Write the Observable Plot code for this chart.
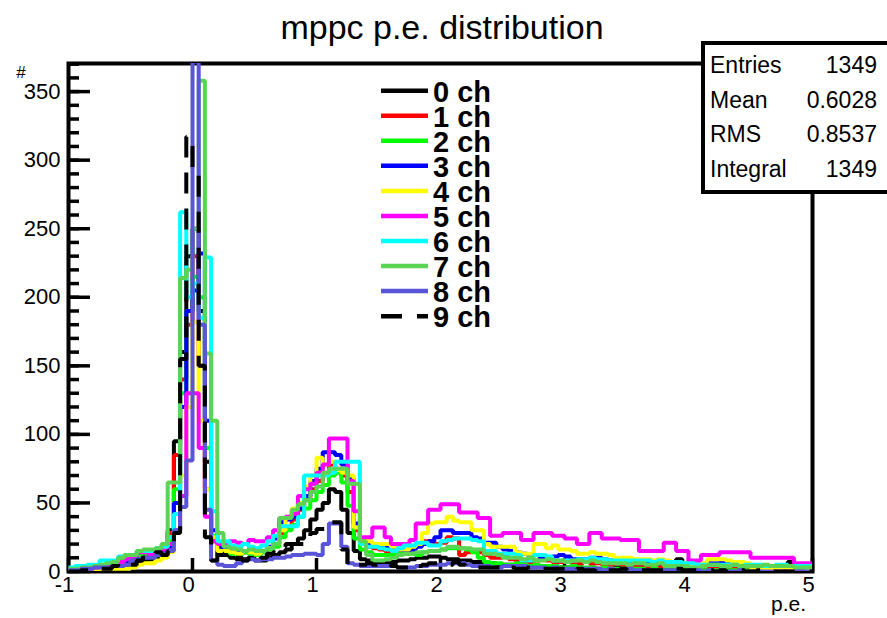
<!DOCTYPE html>
<html>
<head>
<meta charset="utf-8">
<script src="https://cdn.jsdelivr.net/npm/d3@7"></script>
<script src="https://cdn.jsdelivr.net/npm/@observablehq/plot@0.6"></script>
<style>
  html, body { margin: 0; padding: 0; background: #fff; }
  #chart { width: 887px; height: 618px; position: relative; }
</style>
</head>
<body>
<div id="chart"></div>
<script>
// ---- data: 120 bins of width 0.05 from -1 to 5 (p.e.) ----
const xMin = -1, xMax = 5, binWidth = 0.05;

const ch0 = [
  0,1,1,1,2,2,3,3,4,5,
  6,7,8,9,10,12,30,95,160,230,
  250,190,80,22,12,12,10,9,9,10,
  8,8,10,12,14,16,20,24,30,38,
  45,50,60,58,45,28,15,9,8,7,
  6,6,7,8,8,9,10,10,11,11,
  10,9,9,8,8,7,7,6,6,5,
  5,5,4,4,5,4,4,3,4,3,
  3,3,3,2,3,2,2,2,3,2,
  2,2,2,2,1,2,2,2,9,3,
  2,2,2,1,1,1,1,1,1,1,
  1,1,1,1,1,1,7,1,1,0];
const ch1 = [
  1,1,2,2,3,3,5,6,8,9,
  10,12,13,13,14,18,28,85,140,180,
  230,150,60,24,16,17,16,15,14,16,
  15,14,17,20,28,32,38,45,52,60,
  66,72,78,75,70,58,30,22,18,17,
  16,15,14,14,15,16,20,22,22,20,
  21,25,24,12,14,15,14,12,10,10,
  11,9,8,6,6,8,9,8,7,7,
  8,6,6,7,6,6,5,5,6,5,
  5,4,4,4,5,4,4,3,3,3,
  3,2,3,3,2,2,2,2,3,2,
  2,1,2,1,1,1,1,1,1,1];
const ch2 = [
  1,2,2,3,3,4,5,6,8,9,
  11,12,13,14,15,16,22,60,130,190,
  215,200,90,26,18,15,13,12,14,13,
  12,14,16,18,25,30,34,40,46,52,
  58,63,70,72,65,48,24,16,14,12,
  12,12,12,13,13,13,12,14,15,15,
  16,17,17,17,16,14,10,7,6,6,
  5,5,6,5,4,5,4,4,4,3,
  3,4,3,3,3,2,3,2,2,2,
  2,2,2,1,2,1,1,1,1,2,
  1,1,1,1,1,1,1,1,1,1,
  0,1,0,1,0,0,1,0,0,0];
const ch3 = [
  1,1,1,2,2,3,4,5,6,7,
  8,9,10,11,12,14,18,50,120,190,
  205,232,110,30,18,16,15,14,15,16,
  14,15,18,24,36,38,40,46,55,66,
  75,87,87,85,78,68,35,24,20,20,
  18,18,17,16,15,16,18,20,22,25,
  30,30,28,28,28,25,24,21,21,18,
  16,15,14,13,12,12,10,10,11,12,
  11,9,9,9,10,10,9,8,8,7,
  8,7,6,6,7,6,6,5,5,4,
  4,5,5,6,6,7,7,5,5,4,
  4,3,3,3,2,3,3,2,2,2];
const ch4 = [
  0,1,1,1,1,2,2,2,2,2,
  3,5,6,6,8,10,14,30,70,120,
  182,110,60,25,15,15,14,13,15,14,
  13,15,17,20,30,40,46,50,62,70,
  83,78,80,74,72,70,32,24,22,20,
  20,20,18,16,16,18,20,28,35,36,
  36,40,37,36,36,30,30,20,18,18,
  18,18,14,13,13,20,20,17,19,16,
  16,15,13,13,14,13,13,12,10,10,
  10,9,9,9,8,9,8,7,6,6,
  5,5,6,9,9,9,8,7,7,6,
  3,3,2,2,2,3,2,3,3,2];
const ch5 = [
  1,1,2,2,3,4,5,6,7,9,
  11,14,14,12,13,16,20,30,55,130,
  130,90,40,22,20,20,22,21,20,23,
  22,22,25,30,39,40,42,55,60,64,
  72,78,97,97,97,66,44,25,25,32,
  32,25,20,20,20,23,35,35,45,45,
  49,49,49,43,43,43,39,39,26,26,
  28,28,28,23,23,28,28,28,26,26,
  24,24,20,20,28,28,24,24,24,23,
  23,23,15,15,15,15,21,21,15,15,
  8,8,12,12,12,14,14,14,14,14,
  10,10,10,10,10,10,10,6,6,6];
const ch6 = [
  3,4,4,5,5,8,8,8,11,12,
  12,15,15,15,17,18,25,42,262,200,
  210,185,229,44,22,22,19,18,20,18,
  17,19,22,26,33,33,33,40,70,70,
  70,70,72,80,80,80,80,20,18,18,
  17,16,15,17,19,19,21,21,19,19,
  22,23,24,24,24,23,22,15,15,13,
  13,13,12,8,8,12,12,11,8,8,
  8,8,9,9,10,9,9,8,8,8,
  8,8,8,8,7,8,7,7,7,6,
  6,5,5,5,5,5,5,5,4,5,
  5,5,4,4,5,5,4,4,4,4];
const ch7 = [
  2,2,3,3,4,5,6,7,10,12,
  12,15,16,16,17,20,65,65,214,220,
  250,358,159,110,28,18,17,16,15,16,
  15,15,17,20,39,39,45,49,52,58,
  62,72,75,75,75,64,64,22,12,8,
  8,9,10,12,13,13,14,14,15,15,
  16,18,18,17,17,16,16,13,13,12,
  10,10,10,9,10,8,8,9,8,8,
  7,8,8,7,8,7,6,6,6,6,
  5,6,6,5,5,6,4,4,4,4,
  3,3,4,5,5,4,4,5,4,4,
  4,4,5,4,4,4,4,3,3,3];
const ch8 = [
  1,1,2,2,3,3,3,4,4,5,
  8,9,10,10,12,13,15,30,47,81,
  372,180,45,8,5,4,4,6,8,9,
  8,9,9,10,10,11,12,12,13,13,
  12,20,35,35,18,6,5,4,4,4,
  4,4,4,3,3,3,4,4,5,5,
  5,6,6,6,5,4,4,4,3,3,
  4,4,4,4,3,3,3,2,3,2,
  2,2,2,2,2,2,1,2,1,1,
  2,1,1,1,1,1,1,1,1,0,
  1,1,0,1,0,1,0,0,1,0,
  0,0,0,0,0,0,0,0,0,0];
const ch9 = [
  0,0,1,1,1,2,2,4,6,6,
  5,8,12,12,14,12,15,28,155,317,
  295,150,25,8,12,13,13,10,8,10,
  8,10,13,14,18,20,20,20,25,28,
  31,31,36,36,16,4,5,5,6,5,
  6,5,4,3,3,2,4,5,6,6,
  6,5,7,5,4,4,3,3,3,3,
  2,3,2,2,3,2,2,2,2,2,
  2,1,2,1,1,2,1,1,1,2,
  1,1,1,1,1,1,1,1,2,1,
  1,1,1,1,0,1,0,1,1,0,
  0,1,0,0,0,0,0,0,0,0];

const seriesNames = ["0 ch","1 ch","2 ch","3 ch","4 ch","5 ch","6 ch","7 ch","8 ch","9 ch"];
const seriesValues = [ch0, ch1, ch2, ch3, ch4, ch5, ch6, ch7, ch8, ch9];
const seriesColors = ["#000000","#ff0000","#00ff00","#0000ff","#ffff00","#ff00ff","#00ffff","#59d454","#5954d8","#000000"];
const seriesDash = [null,null,null,null,null,null,null,null,null,"21 15"];

const xTicks = [-1, 0, 1, 2, 3, 4, 5];
const yMajor = [0, 50, 100, 150, 200, 250, 300, 350];
const yMinor = d3.range(0, 371, 10);

const statNames = ["Entries", "Mean", "RMS", "Integral"];
const statValues = ["1349", "0.6028", "0.8537", "1349"];

const titleText = "mppc p.e. distribution";
const xLabel = "p.e.";
const yLabel = "#";

seriesValues.forEach((v, i) => { if (v.length !== 120) throw new Error("series " + i + " has " + v.length + " bins"); });

// ---- layout ----
const W = 887, H = 618;
const mL = 68, mR = 75, mT = 63, mB = 47;
const frameW = W - mL - mR, frameH = H - mT - mB;

function stepPoints(values) {
  const pts = values.map((v, i) => ({x: xMin + i * binWidth, y: v}));
  pts.push({x: xMax, y: values[values.length - 1]});
  return pts;
}

const histMarks = seriesValues.map((vals, i) =>
  Plot.line(stepPoints(vals), {
    x: "x", y: "y", curve: "step-after",
    stroke: seriesColors[i], strokeWidth: 4,
    strokeDasharray: seriesDash[i] || undefined,
    strokeLinejoin: "miter", strokeLinecap: "butt",
    clip: true
  })
);

const chart = Plot.plot({
  width: W, height: H,
  marginLeft: mL, marginRight: mR, marginTop: mT, marginBottom: mB,
  x: {domain: [xMin, xMax], axis: null},
  y: {domain: [0, 370.5], axis: null},
  style: {fontFamily: "'Liberation Sans', Arial, Helvetica, sans-serif", background: "white", color: "black"},
  marks: [
    Plot.frame({stroke: "black", strokeWidth: 4}),
    Plot.tickY(yMinor, {y: d => d, insetRight: frameW - 11, stroke: "black", strokeWidth: 3.5}),
    Plot.tickY(yMajor, {y: d => d, insetRight: frameW - 22, stroke: "black", strokeWidth: 3.5}),
    Plot.tickX(xTicks, {x: d => d, insetTop: frameH - 13, stroke: "black", strokeWidth: 3.5}),
    Plot.axisY({ticks: yMajor, tickSize: 0, tickPadding: 8, fontSize: 22, label: null, tickFormat: d => String(d)}),
    Plot.axisX({ticks: xTicks, tickSize: 0, tickPadding: 5, fontSize: 22, label: null, dx: -4, tickFormat: d => String(d)}),
    ...histMarks
  ]
});

document.getElementById("chart").appendChild(chart);

// ---- annotations: title, axis titles, legend, stats box ----
const svg = d3.select(chart);
const font = "'Liberation Sans', Arial, Helvetica, sans-serif";

svg.append("text").attr("x", 442).attr("y", 39).attr("text-anchor", "middle")
  .attr("font-family", font).attr("font-size", 34).attr("fill", "black").text(titleText);

svg.append("text").attr("x", 806).attr("y", 611).attr("text-anchor", "end")
  .attr("font-family", font).attr("font-size", 21).attr("fill", "black").text(xLabel);

svg.append("text").attr("x", 21).attr("y", 78).attr("text-anchor", "middle")
  .attr("font-family", font).attr("font-size", 17).attr("fill", "black").text(yLabel);

// legend
const leg = svg.append("g");
seriesNames.forEach((name, i) => {
  const ly = 90.7 + i * 25.05;
  leg.append("line").attr("x1", 381).attr("x2", 428).attr("y1", ly).attr("y2", ly)
    .attr("stroke", seriesColors[i]).attr("stroke-width", 4.5)
    .attr("stroke-dasharray", seriesDash[i] || null);
  leg.append("text").attr("x", 433).attr("y", ly + 11)
    .attr("text-anchor", "start")
    .attr("font-family", font).attr("font-size", 29).attr("font-weight", "bold")
    .attr("fill", "black").text(name);
});

// stats box
const sb = svg.append("g");
sb.append("rect").attr("x", 703).attr("y", 43).attr("width", 200).attr("height", 149)
  .attr("fill", "white").attr("stroke", "black").attr("stroke-width", 4);
statNames.forEach((n, i) => {
  const by = 73 + i * 34.7;
  sb.append("text").attr("x", 710).attr("y", by).attr("text-anchor", "start").attr("font-family", font)
    .attr("font-size", 23).attr("fill", "black").text(n);
  sb.append("text").attr("x", 877).attr("y", by).attr("text-anchor", "end").attr("font-family", font)
    .attr("font-size", 23).attr("fill", "black").text(statValues[i]);
});
</script>
</body>
</html>
